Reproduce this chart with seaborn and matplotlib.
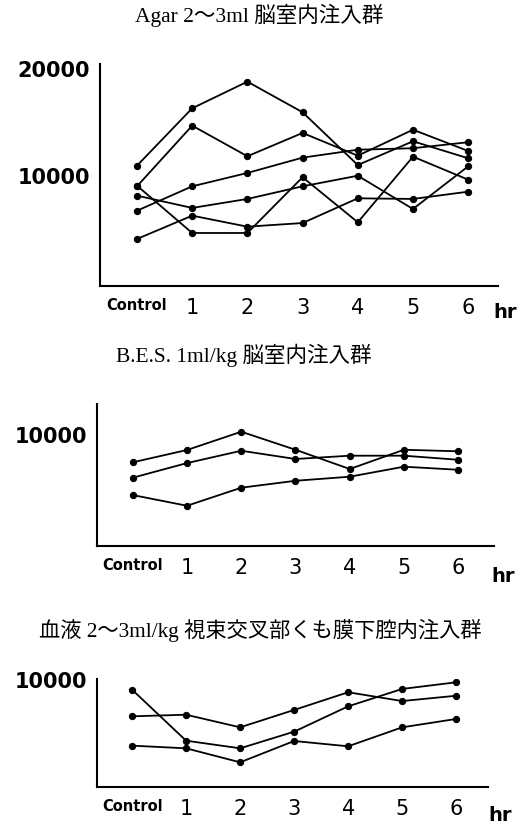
import matplotlib
matplotlib.use("Agg")
import matplotlib.pyplot as plt
import seaborn as sns
import pandas as pd

sns.set_style("white")
plt.rcParams['font.family'] = ['DejaVu Sans', 'Noto Sans CJK JP']
plt.rcParams['text.color'] = 'black'
plt.rcParams['xtick.color'] = 'black'
plt.rcParams['ytick.color'] = 'black'
plt.rcParams['xtick.labelcolor'] = 'black'
plt.rcParams['ytick.labelcolor'] = 'black'

hours = [0, 1, 2, 3, 4, 5, 6]
tick_labels = ["Control", "1", "2", "3", "4", "5", "6"]

title1 = "Agar 2〜3ml 脳室内注入群"
title2 = "B.E.S. 1ml/kg 脳室内注入群"
title3 = "血液 2〜3ml/kg 視束交叉部くも膜下腔内注入群"

# Panel 1: Agar
agar_a = [10870, 16230, 18720, 15860, 10930, 13150, 11560]
agar_b = [8940, 14610, 11750, 13930, 11800, 14230, 12240]
agar_c = [6660, 8940, 10190, 11620, 12360, 12500, 13060]
agar_d = [8070, 6920, 7760, 8940, 9930, 6820, 10810]
agar_e = [9000, 4580, 4580, 9790, 5580, 11710, 9560]
agar_f = [4020, 6200, 5170, 5510, 7820, 7760, 8440]

# Panel 2: B.E.S.
bes_a = [7430, 8550, 10210, 8570, 6820, 8570, 8430]
bes_b = [6030, 7360, 8480, 7730, 8030, 8030, 7660]
bes_c = [4450, 3480, 5120, 5750, 6120, 7030, 6750]

# Panel 3: blood
blood_a = [8990, 4180, 3460, 5030, 7420, 9060, 9690]
blood_b = [6480, 6630, 5440, 7080, 8750, 7920, 8420]
blood_c = [3710, 3460, 2140, 4150, 3650, 5440, 6230]

panels = [
    dict(title=title1, series=[agar_a, agar_b, agar_c, agar_d, agar_e, agar_f],
         yticks=[10000, 20000], ylabels=["10000", "20000"]),
    dict(title=title2, series=[bes_a, bes_b, bes_c],
         yticks=[10000], ylabels=["10000"]),
    dict(title=title3, series=[blood_a, blood_b, blood_c],
         yticks=[10000], ylabels=["10000"]),
]

W, H = 530, 829
fig = plt.figure(figsize=(W / 100, H / 100), dpi=100)

layout = [
    dict(l=100, r=498, t=65, b=287, xlim=(-0.67, 6.54), ylim=(-374, 20370),
         title_xy=(259, 15), hr_xy=(505, 313), tsize=15.5),
    dict(l=97, r=494, t=405, b=547, xlim=(-0.66, 6.66), ylim=(-180, 12730),
         title_xy=(244, 355), hr_xy=(503, 577), tsize=15.5),
    dict(l=97, r=488, t=680, b=788, xlim=(-0.65, 6.59), ylim=(-190, 10000),
         title_xy=(260, 630), hr_xy=(500, 816), tsize=15.3),
]

for p, lay in zip(panels, layout):
    ax = fig.add_axes([lay['l'] / W, 1 - lay['b'] / H,
                       (lay['r'] - lay['l']) / W, (lay['b'] - lay['t']) / H])
    rows = []
    for si, s in enumerate(p['series']):
        for h, v in zip(hours, s):
            rows.append(dict(hour=h, value=v, unit=si))
    df = pd.DataFrame(rows)
    sns.lineplot(data=df, x='hour', y='value', units='unit', estimator=None,
                 color='black', marker='o', markersize=4.5, linewidth=1.3,
                 markeredgecolor='black', ax=ax, legend=False)
    ax.set_xlim(*lay['xlim'])
    ax.set_ylim(*lay['ylim'])
    ax.set_xlabel("")
    ax.set_ylabel("")
    ax.set_xticks(hours)
    ax.set_xticklabels(tick_labels)
    for i, lab in enumerate(ax.get_xticklabels()):
        if i == 0:
            lab.set_fontsize(10.5)
            lab.set_fontweight('bold')
            lab.set_verticalalignment('top')
        else:
            lab.set_fontsize(15)
    ax.set_yticks(p['yticks'])
    ax.set_yticklabels(p['ylabels'], fontsize=15, fontweight='bold')
    ax.tick_params(axis='both', length=0)
    ax.tick_params(axis='x', pad=8)
    ax.tick_params(axis='y', pad=7)
    for side in ['top', 'right']:
        ax.spines[side].set_visible(False)
    for side in ['left', 'bottom']:
        ax.spines[side].set_color('black')
        ax.spines[side].set_linewidth(1.5)
    ax.grid(False)
    tx, ty = lay['title_xy']
    fig.text(tx / W, 1 - ty / H, p['title'], ha='center', va='center',
             fontsize=lay['tsize'], family=['Liberation Serif', 'Noto Sans CJK JP'])
    hx, hy = lay['hr_xy']
    fig.text(hx / W, 1 - hy / H, "hr", ha='center', va='center',
             fontsize=14, fontweight='bold')

fig.savefig("out.png", dpi=100, facecolor='white')
